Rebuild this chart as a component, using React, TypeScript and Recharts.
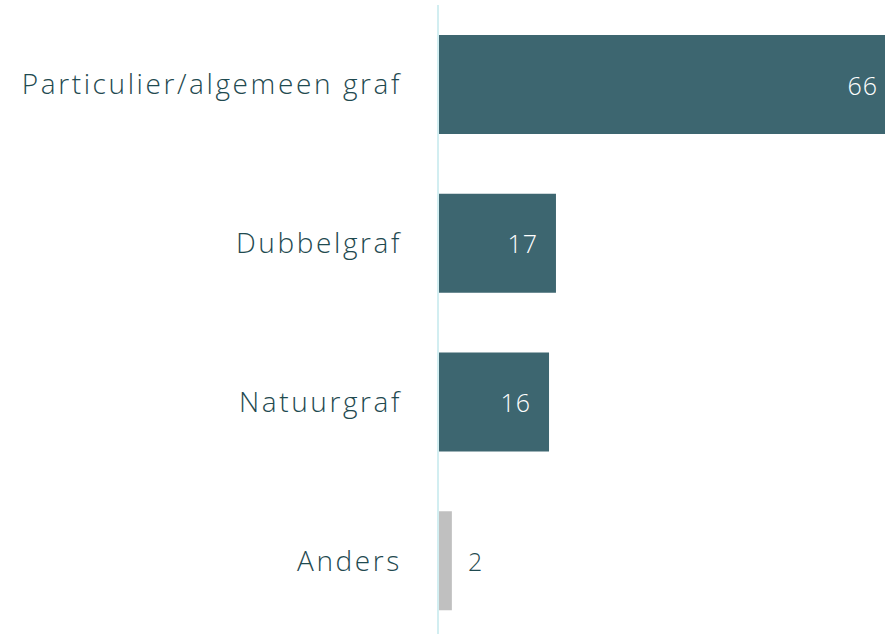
import React from 'react';
import { BarChart, Bar, XAxis, YAxis, Cell, LabelList } from 'recharts';

const categories = ['Particulier/algemeen graf', 'Dubbelgraf', 'Natuurgraf', 'Anders'];
const values = [66, 17, 16, 2];
const barColors = ['#3d6670', '#3d6670', '#3d6670', '#c0c0c0'];

const data = categories.map((name, i) => ({ name, value: values[i] }));

const FONT = '"Open Sans", sans-serif';
const TEXT = '#1f4a50';

// value label: white inside the bar, dark outside when the bar is too short
function ValueLabel(props: any) {
  const { x, y, width, height, value } = props;
  const inside = width > 40;
  const tx = inside ? x + width - 18 : x + width + 16;
  return (
    <text
      x={tx}
      y={y + height / 2}
      textAnchor={inside ? 'end' : 'start'}
      dominantBaseline="central"
      fill={inside ? '#ffffff' : TEXT}
      fontFamily={FONT}
      fontWeight={300}
      fontSize={25}
      letterSpacing={1}
    >
      {value}
    </text>
  );
}

export default function App() {
  return (
    <div
      style={{
        position: 'fixed',
        left: 0,
        top: 0,
        width: 885,
        height: 634,
        overflow: 'hidden',
        background: '#fff',
      }}
    >
      <BarChart
        width={896}
        height={640}
        data={data}
        layout="vertical"
        margin={{ top: 5, right: 0, left: 0, bottom: 0 }}
      >
        <XAxis type="number" domain={[0, 66]} hide />
        <YAxis
          type="category"
          dataKey="name"
          width={438}
          axisLine={{ stroke: '#d2eef1', strokeWidth: 2 }}
          tickLine={false}
          tickSize={0}
          tickMargin={36}
          tick={{ fill: TEXT, fontSize: 28, fontFamily: FONT, fontWeight: 300, letterSpacing: 2.6 }}
        />
        <Bar dataKey="value" barSize={99} isAnimationActive={false}>
          {data.map((d, i) => (
            <Cell key={d.name} fill={barColors[i]} />
          ))}
          <LabelList dataKey="value" content={ValueLabel} />
        </Bar>
      </BarChart>
    </div>
  );
}
